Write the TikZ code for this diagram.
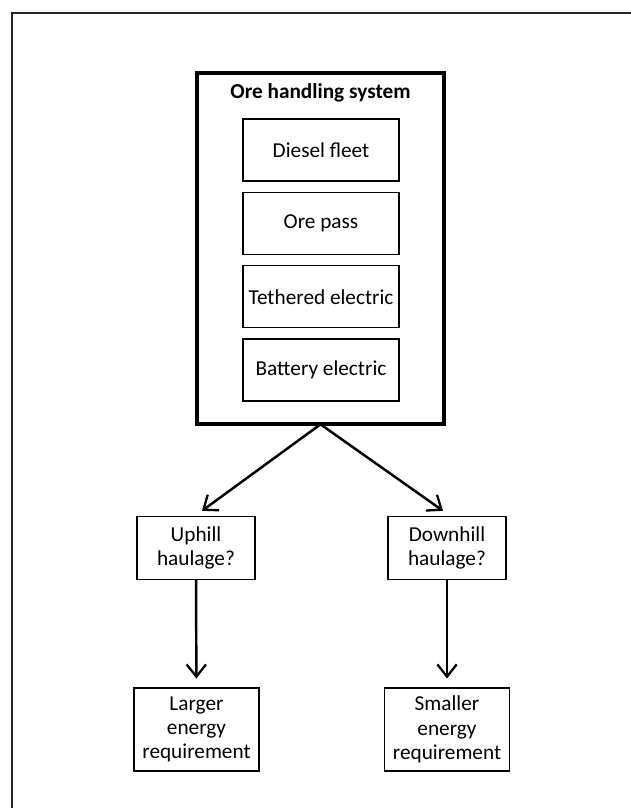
\documentclass[tikz,border=0pt]{standalone}
\usepackage{fontspec}
\setmainfont{Carlito}
\usetikzlibrary{arrows.meta, positioning}

\begin{document}
\begin{tikzpicture}[x=0.02cm, y=-0.02cm, >={Straight Barb[length=7pt, width=11pt, line width=1.3pt]},
            font=\fontsize{12.1}{13.8}\selectfont,
            optbox/.style={draw, line width=0.8pt, rectangle, minimum width=3.12cm, minimum height=1.24cm, align=center, inner sep=0pt},
            qbox/.style={draw, line width=0.8pt, rectangle, minimum width=2.36cm, minimum height=1.26cm, align=center, inner sep=0pt},
            rbox/.style={draw, line width=0.8pt, rectangle, minimum width=2.5cm, minimum height=1.66cm, align=center, inner sep=0pt},
            link/.style={->, line width=1.4pt}]

            \useasboundingbox (0,0) rectangle (631,808);
            \draw[line width=0.9pt, black!85] (12,808) -- (12,13) -- (631,13);

            % ore handling system
            \draw[line width=2pt] (197,73) rectangle (444,424);
            \node (main) at (320.5,248.5) [minimum width=4.94cm, minimum height=7.02cm] {};
            \node (title) at (320.5,93) {\bfseries Ore handling system};
            \node[optbox] (diesel) at (321,150) {Diesel fleet};
            \node[optbox, below=0.2cm of diesel] (pass) {Ore pass};
            \node[optbox, below=0.2cm of pass] (tether) {Tethered electric};
            \node[optbox, below=0.2cm of tether] (battery) {Battery electric};

            % haulage
            \node[qbox] (up) at (196,548) {Uphill\\haulage?};
            \node[qbox] (down) at (447,548) {Downhill\\haulage?};
            \node[rbox] (large) at (196.5,729.5) {Larger\\energy\\requirement};
            \node[rbox] (small) at (447,729.5) {Smaller\\energy\\requirement};

            \draw[link] (main.south) -- ([shift={(6,-5)}]up.north);
            \draw[link] (main.south) -- ([shift={(-4,-5)}]down.north);
            \draw[link, shorten >=5pt] (up) -- (large);
            \draw[link, shorten >=5pt] (down) -- (small);
        \end{tikzpicture}
\end{document}
